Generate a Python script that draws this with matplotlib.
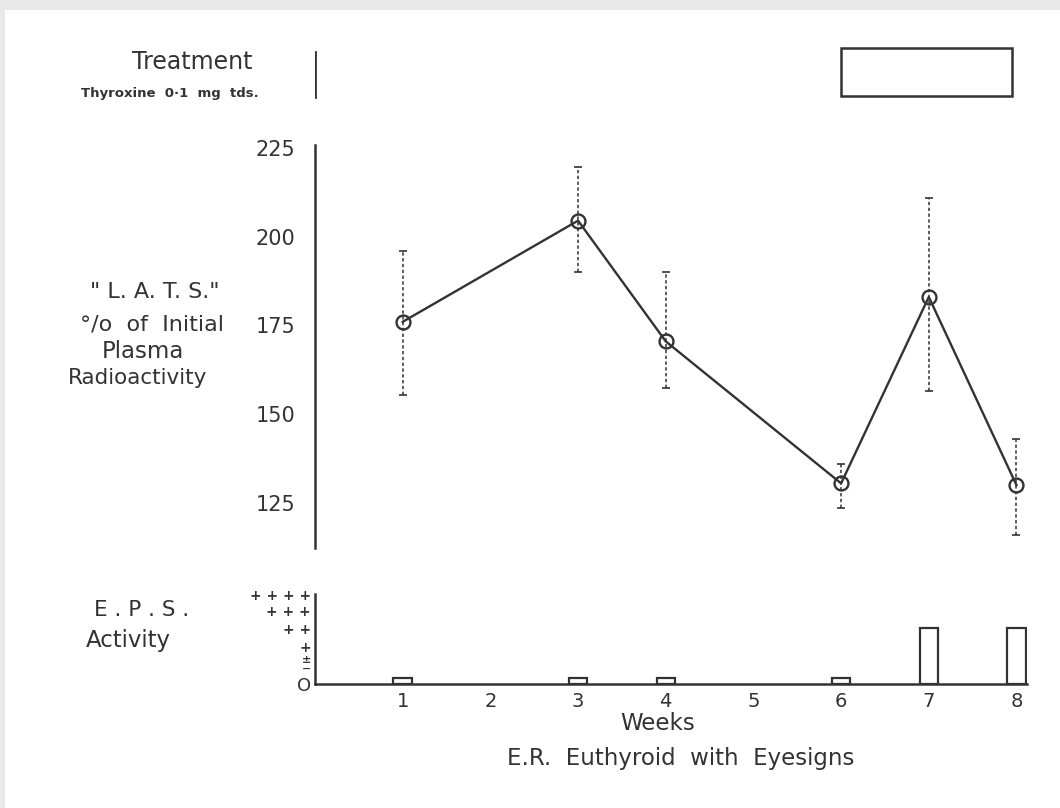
import matplotlib
matplotlib.use("Agg")
import matplotlib.pyplot as plt
from matplotlib.patches import Rectangle

# ---------------- data ----------------
weeks = [1, 3, 4, 6, 7, 8]
lats = [176.0, 204.5, 170.5, 130.5, 183.0, 130.0]
lats_hi = [196.0, 219.5, 190.0, 136.0, 211.0, 143.0]
lats_lo = [155.5, 190.0, 157.5, 123.5, 156.5, 116.0]

eps_weeks = [1, 3, 4, 6, 7, 8]
eps_vals = [6, 6, 6, 6, 56, 56]
eps_ticks = [0, 16, 25, 38, 56, 73, 89]
eps_labels = ["O", "\u2212", "\u00b1", "+", "+ +", "+ + +", "+ + + +"]

week_ticks = [1, 2, 3, 4, 5, 6, 7, 8]
lats_ticks = [125, 150, 175, 200, 225]

treat_start, treat_end = 6, 7.95

INK = "#333333"
W, H = 1060, 808

fig = plt.figure(figsize=(W / 100, H / 100), dpi=100)
fig.patch.set_facecolor("#e9e9e9")
fig.patches.append(Rectangle((5 / W, 0), 1, 1 - 10 / H, transform=fig.transFigure,
                             facecolor="white", edgecolor="none", zorder=-10))

def px_axes(x0, y0, x1, y1):
    return fig.add_axes([x0 / W, 1 - y1 / H, (x1 - x0) / W, (y1 - y0) / H])

XL, XR = 315, 1027
xlim = (0, 8.12)

# ---------------- treatment strip ----------------
axt = px_axes(XL, 44, XR, 100)
axt.set_xlim(*xlim)
axt.set_ylim(0, 1)
axt.axis("off")
axt.axvline(0, ymin=0.054, ymax=0.857, color=INK, lw=2.0)
axt.add_patch(Rectangle((treat_start, 0.071), treat_end - treat_start, 0.858,
                        facecolor="none", edgecolor=INK, lw=1.8))

# ---------------- LATS panel ----------------
ax = px_axes(XL, 145, XR, 548)
ax.set_xlim(*xlim)
ax.set_ylim(112.3, 225.8)
for s in ["top", "right", "bottom"]:
    ax.spines[s].set_visible(False)
ax.spines["left"].set_color(INK)
ax.spines["left"].set_linewidth(1.8)
ax.set_xticks([])
ax.set_yticks(lats_ticks)
ax.tick_params(axis="y", length=0, pad=14, labelsize=15, labelcolor=INK)

yerr = [[v - lo for v, lo in zip(lats, lats_lo)], [hi - v for v, hi in zip(lats, lats_hi)]]
eb = ax.errorbar(weeks, lats, yerr=yerr, fmt="none", ecolor=INK, elinewidth=1.1,
                 capsize=3, capthick=1.2)
for lc in eb[2]:
    lc.set_linestyle((0, (2.2, 1.6)))
ax.plot(weeks, lats, color=INK, lw=1.7, marker="o", markersize=10,
        markerfacecolor="none", markeredgecolor=INK, markeredgewidth=1.7)

# ---------------- EPS panel ----------------
axe = px_axes(XL, 594, XR, 684)
axe.set_xlim(*xlim)
axe.set_ylim(0, 90)
for s in ["top", "right"]:
    axe.spines[s].set_visible(False)
for s in ["left", "bottom"]:
    axe.spines[s].set_color(INK)
    axe.spines[s].set_linewidth(1.8)
axe.bar(eps_weeks, eps_vals, width=0.21, facecolor="white", edgecolor=INK, lw=1.6, zorder=3)
axe.set_yticks(eps_ticks)
axe.set_yticklabels(eps_labels, fontsize=10, fontweight="bold")
axe.tick_params(axis="y", length=0, pad=3, labelcolor=INK)
ylabs = axe.get_yticklabels()
ylabs[0].set_fontsize(13)
ylabs[0].set_fontweight("normal")
ylabs[1].set_fontsize(8)
ylabs[2].set_fontsize(8)
axe.set_xticks(week_ticks)
axe.tick_params(axis="x", length=0, pad=6, labelsize=14, labelcolor=INK)

# ---------------- texts ----------------
def t(x, y, s, size, ha="center", **kw):
    fig.text(x / W, 1 - y / H, s, fontsize=size, color=INK, ha=ha, va="center", **kw)

t(192, 62, "Treatment", 17)
t(170, 93, "Thyroxine  0\u00b71  mg  tds.", 9.5, fontweight="bold")
t(155, 292, "\" L. A. T. S.\"", 16)
t(152, 325, "\u00b0/o  of  Initial", 16)
t(143, 352, "Plasma", 16.5)
t(138, 378, "Radioactivity", 15.5)
t(142, 610, "E . P . S .", 15.5)
t(128, 640, "Activity", 16.5)
t(658, 724, "Weeks", 16.5)
t(507, 759, "E.R.  Euthyroid  with  Eyesigns", 16.5, ha="left")

fig.savefig("out.png", dpi=100)
